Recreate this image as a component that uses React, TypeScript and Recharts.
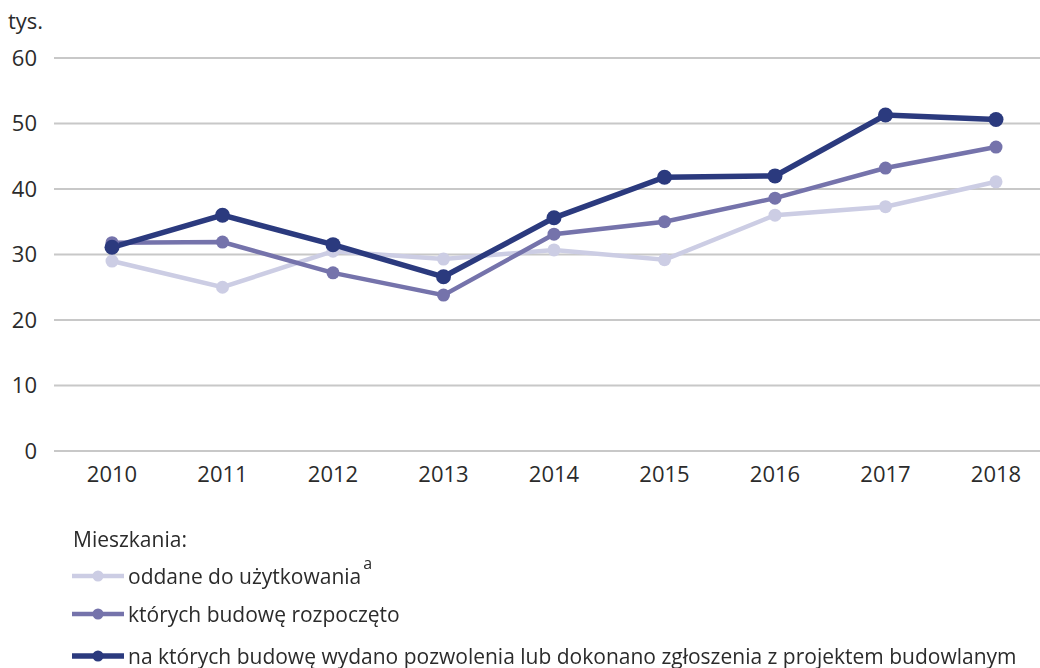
import React from "react";
import { LineChart, Line, XAxis, YAxis, CartesianGrid } from "recharts";

const years = ["2010", "2011", "2012", "2013", "2014", "2015", "2016", "2017", "2018"];
const oddane = [29.0, 25.0, 30.5, 29.3, 30.7, 29.2, 36.0, 37.3, 41.1];
const rozpoczete = [31.8, 31.9, 27.2, 23.8, 33.1, 35.0, 38.6, 43.2, 46.4];
const pozwolenia = [31.1, 36.0, 31.5, 26.6, 35.6, 41.8, 42.0, 51.3, 50.6];
const yTicks = [0, 10, 20, 30, 40, 50, 60];

const seriesKeys = ["oddane", "rozpoczete", "pozwolenia"];
const seriesNames = [
  "oddane do użytkowania",
  "których budowę rozpoczęto",
  "na których budowę wydano pozwolenia lub dokonano zgłoszenia z projektem budowlanym",
];
const seriesColors = ["#cccde4", "#7573ab", "#2b3a7e"];
const seriesWidths = [4.5, 4.5, 5.5];
const dotRadius = [6.5, 6.5, 7.5];
const legendRowHeights = [38, 38, 46];

const data = years.map((year, i) => ({
  year,
  oddane: oddane[i],
  rozpoczete: rozpoczete[i],
  pozwolenia: pozwolenia[i],
}));

const FONT = "'Open Sans', 'Noto Sans', sans-serif";
const TEXT = "#2b2b2b";

function ChartLegend() {
  return (
    <div
      style={{
        position: "absolute",
        left: 70,
        top: 527,
        fontFamily: FONT,
        fontSize: 21,
        color: TEXT,
      }}
    >
      <div style={{ height: 30, lineHeight: "24px", marginLeft: 3 }}>Mieszkania:</div>
      {seriesKeys.map((key, i) => (
        <div
          key={key}
          style={{ display: "flex", alignItems: "center", height: legendRowHeights[i], lineHeight: "24px" }}
        >
          <svg width={56} height={14} style={{ marginRight: 2 }}>
            <line x1={2} y1={7} x2={54} y2={7} stroke={seriesColors[i]} strokeWidth={seriesWidths[i]} />
            <circle cx={28} cy={7} r={5.5} fill={seriesColors[i]} />
          </svg>
          <span style={{ whiteSpace: "nowrap" }}>
            {seriesNames[i]}
            {i === 0 ? (
              <sup style={{ fontSize: 16, position: "relative", top: -7, lineHeight: 0, marginLeft: 2 }}>a</sup>
            ) : null}
          </span>
        </div>
      ))}
    </div>
  );
}

export default function App() {
  return (
    <div style={{ position: "fixed", left: 0, top: 0, width: 1040, height: 668, background: "#fff" }}>
      <div
        style={{
          position: "absolute",
          left: 8,
          top: 5,
          fontFamily: FONT,
          fontSize: 22,
          color: TEXT,
        }}
      >
        tys.
      </div>
      <LineChart
        width={1040}
        height={668}
        data={data}
        margin={{ top: 58, right: 0, left: 0, bottom: 187 }}
      >
        <CartesianGrid vertical={false} stroke="#c8c8c8" strokeWidth={2} />
        <XAxis
          dataKey="year"
          axisLine={false}
          tickLine={false}
          tickSize={0}
          tickMargin={15}
          padding={{ left: 58, right: 44 }}
          tick={{ fontFamily: FONT, fontSize: 22, fill: TEXT }}
          interval={0}
        />
        <YAxis
          width={54}
          domain={[0, 60]}
          ticks={yTicks}
          axisLine={false}
          tickLine={false}
          tickSize={0}
          tickMargin={17}
          tick={{ fontFamily: FONT, fontSize: 22, fill: TEXT }}
        />
        {seriesKeys.map((key, i) => (
          <Line
            key={key}
            type="linear"
            dataKey={key}
            name={seriesNames[i]}
            stroke={seriesColors[i]}
            strokeWidth={seriesWidths[i]}
            dot={{ r: dotRadius[i], fill: seriesColors[i], stroke: "none" }}
            isAnimationActive={false}
          />
        ))}
      </LineChart>
      <ChartLegend />
    </div>
  );
}
